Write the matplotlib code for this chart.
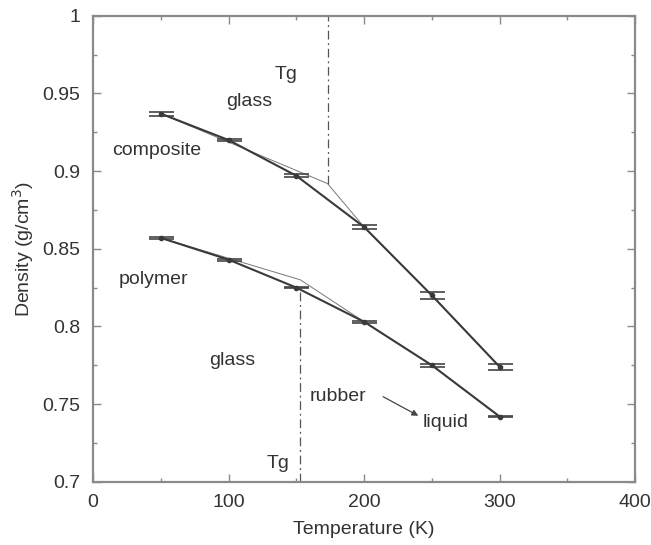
import numpy as np
import matplotlib
matplotlib.use("Agg")
import matplotlib.pyplot as plt
from matplotlib.ticker import MultipleLocator

plt.rcParams["font.family"] = ["Liberation Sans", "DejaVu Sans"]

# measured densities (g/cm3) vs temperature (K)
temps = [50, 100, 150, 200, 250, 300]
comp_rho = [0.937, 0.920, 0.897, 0.864, 0.820, 0.774]
comp_err = [0.0012, 0.0008, 0.0010, 0.0012, 0.0025, 0.0018]
poly_rho = [0.857, 0.843, 0.825, 0.803, 0.775, 0.742]
poly_err = [0.0005, 0.0006, 0.0005, 0.0006, 0.0008, 0.0006]

# thin fitted lines (glass / rubber branches)
comp_fit_t = [50, 173, 200, 250, 300]
comp_fit_rho = [0.937, 0.892, 0.864, 0.820, 0.774]
poly_fit_t = [50, 153, 200, 250, 300]
poly_fit_rho = [0.857, 0.830, 0.803, 0.775, 0.742]

# glass transition markers
comp_tg = 173
comp_tg_span = [0.892, 1.0]
poly_tg = 153
poly_tg_span = [0.7, 0.824]

fig = plt.figure(figsize=(6.51, 5.45), dpi=100)
ax = fig.add_axes([0.143, 0.116, 0.8326, 0.855])

frame = "#8a8a8a"
line_c = "#3a3a3a"
txt_c = "#333333"

ax.plot(comp_fit_t, comp_fit_rho, color="#777777", lw=0.7)
ax.plot(poly_fit_t, poly_fit_rho, color="#777777", lw=0.7)

for rho, err in [(comp_rho, comp_err), (poly_rho, poly_err)]:
    ax.errorbar(temps, rho, yerr=err, color=line_c, lw=1.5, marker="o", ms=3,
                capsize=9, capthick=1.2, elinewidth=1.0, ecolor="#444444")

ax.plot([comp_tg, comp_tg], comp_tg_span, color="#555555", lw=0.9,
        dashes=[7, 3, 1.5, 3])
ax.plot([poly_tg, poly_tg], poly_tg_span, color="#555555", lw=0.9,
        dashes=[7, 3, 1.5, 3])

fs = 14
ax.text(142.5, 0.962, "Tg", fontsize=fs, color=txt_c, ha="center", va="center")
ax.text(115, 0.945, "glass", fontsize=fs, color=txt_c, ha="center", va="center")
ax.text(47, 0.913, "composite", fontsize=fs, color=txt_c, ha="center", va="center")
ax.text(44.5, 0.830, "polymer", fontsize=fs, color=txt_c, ha="center", va="center")
ax.text(103, 0.778, "glass", fontsize=fs, color=txt_c, ha="center", va="center")
ax.text(181, 0.755, "rubber", fontsize=fs, color=txt_c, ha="center", va="center")
ax.text(260.5, 0.738, "liquid", fontsize=fs, color=txt_c, ha="center", va="center")
ax.text(136.5, 0.712, "Tg", fontsize=fs, color=txt_c, ha="center", va="center")
ax.annotate("", xy=(240, 0.7425), xytext=(214, 0.7548),
            arrowprops=dict(arrowstyle="-|>", color="#444444", lw=0.9,
                            mutation_scale=9, shrinkA=0, shrinkB=0))

ax.set_xlim(0, 400)
ax.set_ylim(0.7, 1.0)
ax.xaxis.set_major_locator(MultipleLocator(100))
ax.xaxis.set_minor_locator(MultipleLocator(50))
ax.yaxis.set_major_locator(MultipleLocator(0.05))
ax.yaxis.set_minor_locator(MultipleLocator(0.025))
ax.set_yticks(np.arange(0.7, 1.001, 0.05))
ax.set_yticklabels(["0.7", "0.75", "0.8", "0.85", "0.9", "0.95", "1"])
ax.tick_params(which="both", direction="in", top=True, right=True,
               color=frame, labelsize=fs, labelcolor=txt_c, pad=9)
ax.tick_params(which="major", length=6, width=1)
ax.tick_params(which="minor", length=3, width=1)
for s in ax.spines.values():
    s.set_color(frame)
    s.set_linewidth(1.6)

ax.set_xlabel("Temperature (K)", fontsize=fs, color=txt_c, labelpad=7)
ax.set_ylabel("Density (g/cm$^3$)", fontsize=fs, color=txt_c, labelpad=5)

fig.savefig("out.png", dpi=100)
